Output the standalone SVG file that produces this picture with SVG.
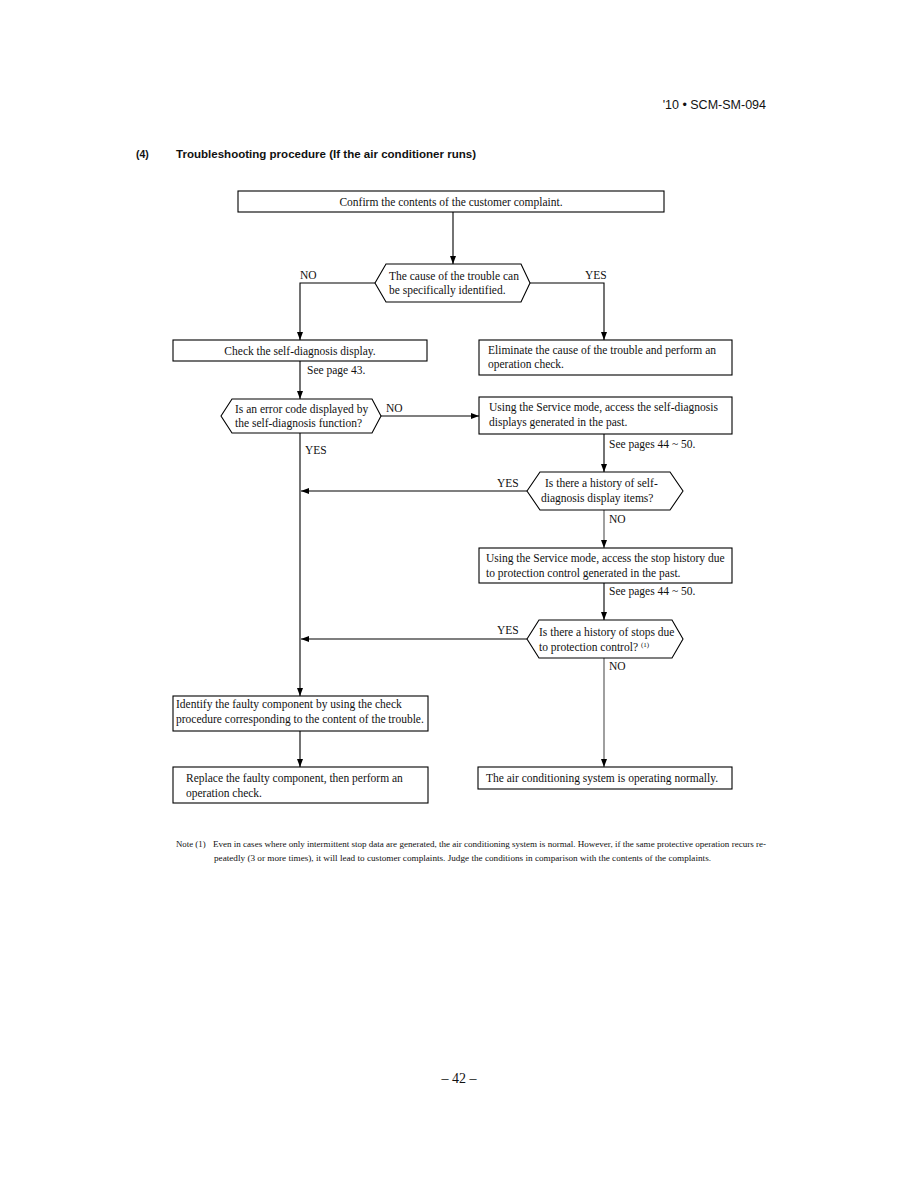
<svg xmlns="http://www.w3.org/2000/svg" width="918" height="1188" viewBox="0 0 918 1188">
<style>
.bx{fill:#fff;stroke:#000;stroke-width:1.1}
.t{font-family:"Liberation Serif","Times New Roman",serif;font-size:11.5px;fill:#111}
.s{font-family:"Liberation Serif","Times New Roman",serif;font-size:8.8px;fill:#111}
.ln{fill:none;stroke:#000;stroke-width:1.1}
.lg{fill:none;stroke:#888;stroke-width:1.6}
.h{font-family:"Liberation Sans",Arial,sans-serif;fill:#111}
</style>
<defs>
<marker id="ar" viewBox="0 0 8 6" refX="8" refY="3" markerWidth="8" markerHeight="6" markerUnits="userSpaceOnUse" orient="auto">
<path d="M0,0 L8,3 L0,6 z" fill="#000"/>
</marker>
</defs>
<rect width="918" height="1188" fill="#fff"/>
<text class="h" x="766" y="109" font-size="12.5" text-anchor="end">'10 • SCM-SM-094</text>
<text class="h" x="136" y="158" font-size="10.5" font-weight="bold">(4)</text>
<text class="h" x="176" y="158" font-size="10.5" font-weight="bold" textLength="300" lengthAdjust="spacingAndGlyphs">Troubleshooting procedure (If the air conditioner runs)</text>

<g id="connectors">
<path class="ln" d="M453,212 V264" marker-end="url(#ar)"/>
<path class="ln" d="M375,283 H300 V340" marker-end="url(#ar)"/>
<path class="ln" d="M530,283 H604 V340" marker-end="url(#ar)"/>
<path class="ln" d="M300,361 V399" marker-end="url(#ar)"/>
<path class="ln" d="M381,416 H479" marker-end="url(#ar)"/>
<path class="ln" d="M300,433 V696" marker-end="url(#ar)"/>
<path class="ln" d="M604,434 V472" marker-end="url(#ar)"/>
<path class="ln" d="M527,491 H301" marker-end="url(#ar)"/>
<path class="lg" d="M604,510 V548" marker-end="url(#ar)"/>
<path class="ln" d="M604,583 V620" marker-end="url(#ar)"/>
<path class="ln" d="M527,639 H301" marker-end="url(#ar)"/>
<path class="lg" d="M604,658 V767" marker-end="url(#ar)"/>
<path class="ln" d="M300,731 V767" marker-end="url(#ar)"/>
<text class="t" x="300" y="279">NO</text>
<text class="t" x="585" y="279">YES</text>
<text class="t" x="307" y="374">See page 43.</text>
<text class="t" x="386" y="412">NO</text>
<text class="t" x="305" y="454">YES</text>
<text class="t" x="609" y="448">See pages 44 ~ 50.</text>
<text class="t" x="497" y="487">YES</text>
<text class="t" x="609" y="523">NO</text>
<text class="t" x="609" y="595">See pages 44 ~ 50.</text>
<text class="t" x="497" y="634">YES</text>
<text class="t" x="609" y="670">NO</text>
</g>

<g id="n1">
<rect class="bx" x="238" y="191" width="426" height="21"/>
<text class="t" x="451" y="206" text-anchor="middle">Confirm the contents of the customer complaint.</text>
</g>
<g id="d1">
<polygon class="bx" points="375,283 386,264 521,264 530,283 521,302 386,302"/>
<text class="t" x="389" y="280">The cause of the trouble can</text>
<text class="t" x="389" y="294">be specifically identified.</text>
</g>
<g id="n2">
<rect class="bx" x="173" y="340" width="254" height="21"/>
<text class="t" x="300" y="355" text-anchor="middle">Check the self-diagnosis display.</text>
</g>
<g id="n3">
<rect class="bx" x="479" y="340" width="253" height="35"/>
<text class="t" x="488" y="354">Eliminate the cause of the trouble and perform an</text>
<text class="t" x="488" y="368">operation check.</text>
</g>
<g id="d2">
<polygon class="bx" points="221,416 232,399 372,399 381,416 372,433 232,433"/>
<text class="t" x="235" y="413">Is an error code displayed by</text>
<text class="t" x="235" y="427">the self-diagnosis function?</text>
</g>
<g id="n4">
<rect class="bx" x="479" y="397" width="253" height="37"/>
<text class="t" x="489" y="411">Using the Service mode, access the self-diagnosis</text>
<text class="t" x="489" y="426">displays generated in the past.</text>
</g>
<g id="d3">
<polygon class="bx" points="527,491 540,472 670,472 683,491 670,510 540,510"/>
<text class="t" x="545" y="487">Is there a history of self-</text>
<text class="t" x="541" y="502">diagnosis display items?</text>
</g>
<g id="n5">
<rect class="bx" x="479" y="548" width="253" height="35"/>
<text class="t" x="486" y="562">Using the Service mode, access the stop history due</text>
<text class="t" x="486" y="577">to protection control generated in the past.</text>
</g>
<g id="d4">
<polygon class="bx" points="527,639 539,620 672,620 683,639 672,658 539,658"/>
<text class="t" x="539" y="636">Is there a history of stops due</text>
<text class="t" x="539" y="651">to protection control? <tspan font-size="7" dy="-4">(1)</tspan></text>
</g>
<g id="n6">
<rect class="bx" x="173" y="696" width="255" height="35"/>
<text class="t" x="176" y="708">Identify the faulty component by using the check</text>
<text class="t" x="176" y="723">procedure corresponding to the content of the trouble.</text>
</g>
<g id="n7">
<rect class="bx" x="173" y="767" width="255" height="36"/>
<text class="t" x="186" y="782">Replace the faulty component, then perform an</text>
<text class="t" x="186" y="797">operation check.</text>
</g>
<g id="n8">
<rect class="bx" x="478" y="767" width="254" height="22"/>
<text class="t" x="486" y="782">The air conditioning system is operating normally.</text>
</g>

<text class="s" x="176" y="847">Note (1)</text>
<text class="s" x="213" y="847" textLength="553" lengthAdjust="spacingAndGlyphs">Even in cases where only intermittent stop data are generated, the air conditioning system is normal. However, if the same protective operation recurs re-</text>
<text class="s" x="214" y="861" textLength="497" lengthAdjust="spacingAndGlyphs">peatedly (3 or more times), it will lead to customer complaints. Judge the conditions in comparison with the contents of the complaints.</text>
<text x="459" y="1083" font-family="Liberation Serif, serif" font-size="14" text-anchor="middle" fill="#111">– 42 –</text>
</svg>
